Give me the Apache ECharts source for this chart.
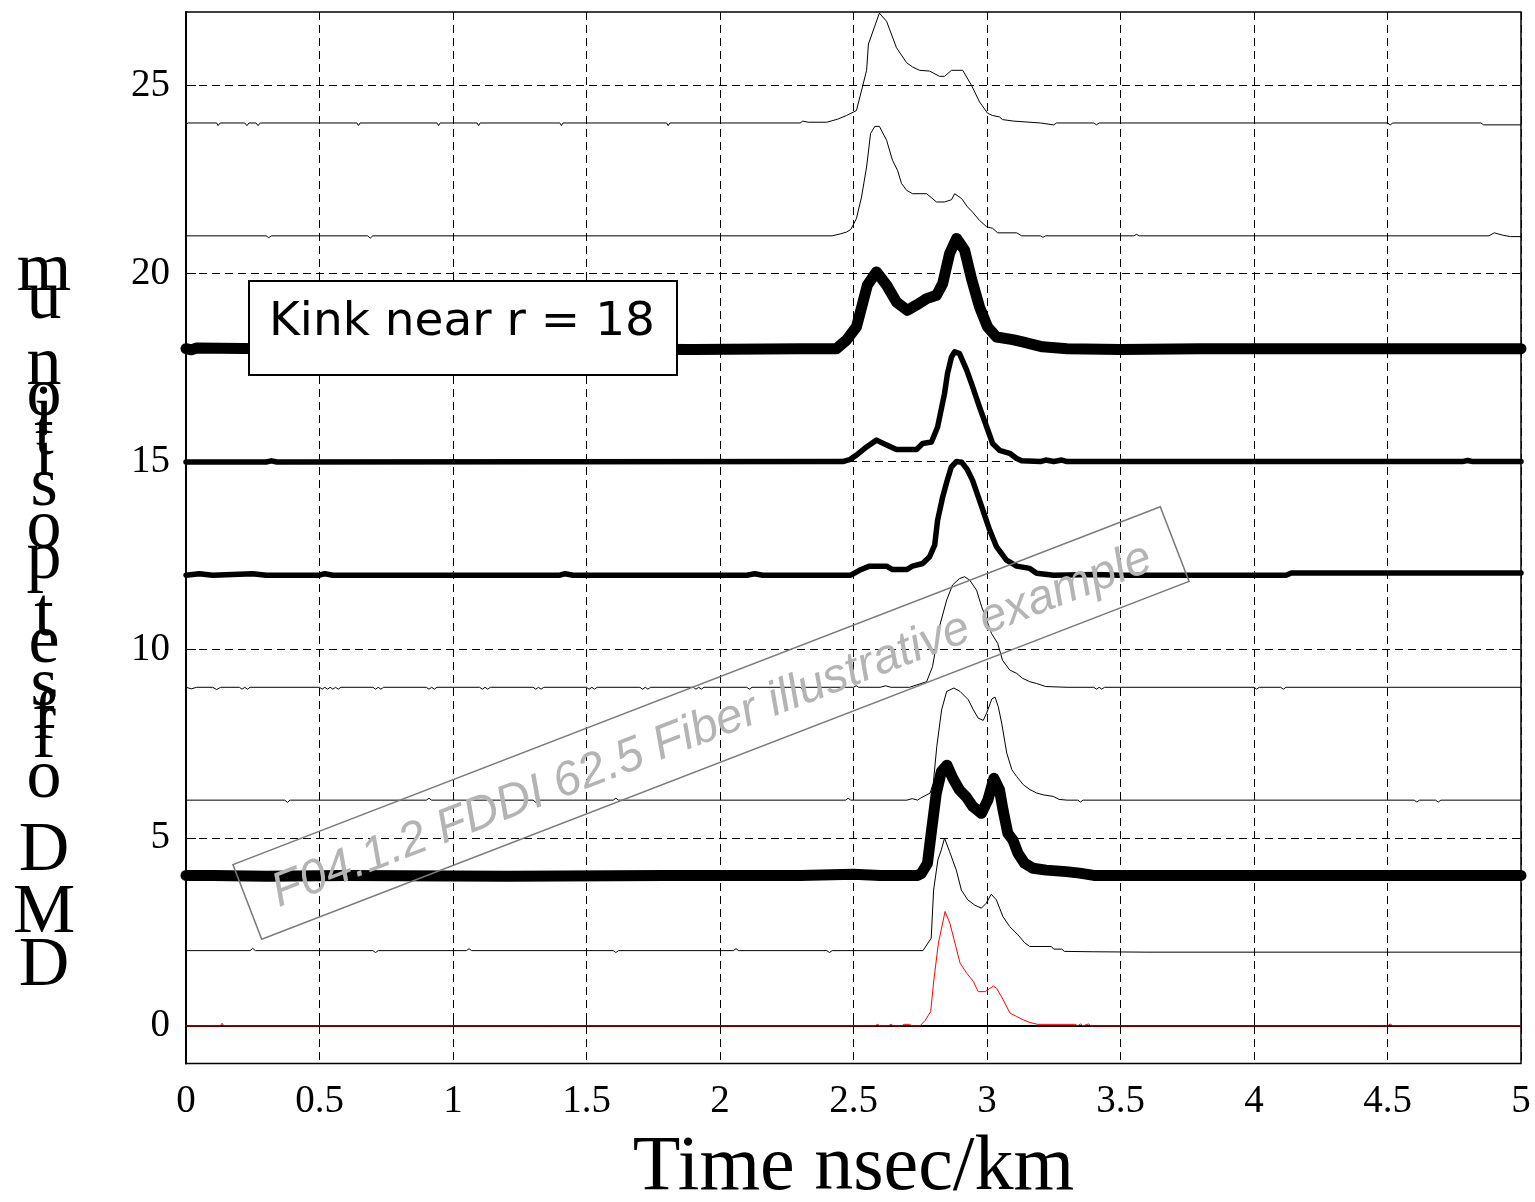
<!DOCTYPE html>
<html><head><meta charset="utf-8">
<script src="https://cdn.jsdelivr.net/npm/echarts@6/dist/echarts.min.js"></script>
<style>html,body{margin:0;padding:0;background:#fff}#c{width:1535px;height:1202px}</style>
</head><body><div id="c"></div>
<script>
// ---- data (x in nsec/km, y = DMD offset + normalised pulse) ----
const yTickValues = [0, 5, 10, 15, 20, 25];
const xTickStep = 0.5;

const r0 = [[0,0],[0.128,0],[0.135,0.07],[0.142,0],[2.58,0],[2.59,0.04],[2.6,0],[2.63,0],[2.64,0.04],[2.65,0],[2.68,0],[2.69,0.04],[2.71,0.04],[2.72,0],[2.749,0],[2.768,0.14],[2.789,0.38],[2.801,1.22],[2.818,2.2],[2.843,3.04],[2.861,2.73],[2.88,2.2],[2.899,1.67],[2.924,1.4],[2.949,1.18],[2.967,0.91],[2.993,0.91],[3.024,1.06],[3.036,1.0],[3.061,0.69],[3.086,0.34],[3.111,0.25],[3.136,0.16],[3.161,0.09],[3.19,0.04],[3.33,0.04],[3.34,0],[3.35,0.05],[3.36,0],[3.38,0.05],[3.39,0],[4.5,0],[4.51,0.05],[4.52,0],[5,0]];

const r2 = [[0,2.0],[0.24,2.0],[0.25,2.06],[0.26,2.0],[0.7,2.0],[0.71,1.95],[0.72,2.0],[1.05,2.0],[1.06,2.05],[1.07,2.0],[1.6,2.0],[1.61,1.95],[1.62,2.0],[2.05,2.0],[2.06,2.05],[2.07,2.0],[2.4,2.0],[2.41,1.95],[2.42,2.0],[2.76,2.0],[2.791,2.33],[2.8,3.61],[2.816,4.41],[2.829,4.68],[2.841,4.99],[2.86,4.63],[2.885,4.14],[2.904,3.61],[2.928,3.35],[2.954,3.21],[2.979,3.13],[2.997,3.26],[3.016,3.5],[3.035,3.35],[3.06,2.9],[3.085,2.64],[3.116,2.42],[3.141,2.21],[3.16,2.11],[3.241,2.11],[3.25,2.04],[3.28,2.04],[3.29,1.98],[3.4,1.97],[3.6,1.96],[5,1.96]];

const r4 = [[0,4.0],[0.1,4.0],[0.3,3.98],[0.6,4.0],[1.2,3.98],[1.8,4.0],[2.3,4.0],[2.5,4.03],[2.6,4.0],[2.74,4.0],[2.754,4.05],[2.777,4.32],[2.791,5.12],[2.81,6.18],[2.829,6.76],[2.85,6.93],[2.872,6.58],[2.897,6.27],[2.922,6.09],[2.947,5.83],[2.979,5.65],[3.003,6.0],[3.026,6.58],[3.047,6.27],[3.06,5.74],[3.078,5.12],[3.097,4.94],[3.116,4.59],[3.141,4.32],[3.172,4.19],[3.222,4.14],[3.297,4.1],[3.347,4.06],[3.4,4.0],[5,4.0]];

const r6 = [[0,6.0],[0.37,6.0],[0.38,5.94],[0.39,6.0],[0.9,6.0],[0.91,6.05],[0.92,6.0],[1.3,6.0],[1.31,5.94],[1.32,6.0],[1.6,6.0],[1.61,6.05],[1.62,6.0],[2.47,6.0],[2.48,6.05],[2.49,6.0],[2.7,6.0],[2.72,6.04],[2.74,6.0],[2.75,6.05],[2.787,6.19],[2.799,6.46],[2.812,7.43],[2.83,8.4],[2.849,8.89],[2.876,8.98],[2.899,8.89],[2.93,8.67],[2.949,8.4],[2.967,8.18],[2.986,8.12],[2.999,8.32],[3.018,8.69],[3.03,8.74],[3.042,8.49],[3.055,8.05],[3.074,7.25],[3.093,6.81],[3.111,6.63],[3.136,6.41],[3.161,6.28],[3.186,6.19],[3.211,6.14],[3.248,6.1],[3.27,6.02],[3.3,6.0],[3.34,6.0],[3.35,5.95],[3.36,6.0],[4.6,6.0],[4.61,5.95],[4.62,6.0],[4.68,6.0],[4.69,5.95],[4.7,6.0],[5,6.0]];

const r9 = [[0,9.0],[0.02,8.96],[0.04,9.0],[0.1,9.0],[0.115,8.94],[0.13,9.0],[0.2,9.0],[0.21,8.95],[0.22,9.0],[0.23,8.95],[0.24,9.0],[0.5,9.0],[0.51,8.95],[0.52,9.0],[0.53,8.95],[0.54,9.0],[0.55,8.95],[0.56,9.0],[0.57,8.95],[0.58,9.0],[0.7,9.0],[0.71,8.95],[0.72,9.0],[0.73,8.95],[0.74,9.0],[0.9,9.0],[0.91,8.95],[0.92,9.0],[0.93,8.95],[0.94,9.0],[1.1,9.0],[1.11,8.95],[1.12,9.0],[1.13,8.95],[1.14,9.0],[1.3,9.0],[1.31,8.95],[1.32,9.0],[1.33,8.95],[1.34,9.0],[1.5,9.0],[1.51,8.95],[1.52,9.0],[1.53,8.95],[1.54,9.0],[1.7,9.0],[1.71,8.95],[1.72,9.0],[1.73,8.95],[1.74,9.0],[1.9,9.0],[1.91,8.95],[1.92,9.0],[1.93,8.95],[1.94,9.0],[2.1,9.0],[2.11,8.95],[2.12,9.0],[2.3,9.0],[2.31,8.95],[2.32,9.0],[2.5,9.0],[2.51,9.04],[2.52,9.0],[2.6,9.0],[2.62,9.04],[2.64,9.0],[2.71,9.0],[2.774,9.15],[2.796,9.55],[2.822,10.61],[2.849,11.32],[2.871,11.72],[2.897,11.89],[2.916,11.94],[2.935,11.85],[2.961,11.58],[2.98,11.14],[2.999,10.79],[3.017,10.43],[3.04,10.17],[3.058,9.72],[3.085,9.46],[3.111,9.37],[3.133,9.24],[3.16,9.15],[3.186,9.1],[3.22,9.02],[3.3,9.0],[3.4,9.0],[3.41,8.95],[3.42,9.0],[3.43,8.95],[3.44,9.0],[4.0,9.0],[4.01,8.95],[4.02,9.0],[4.1,9.0],[4.11,8.95],[4.12,9.0],[5,9.0]];

const r12 = [[0,11.98],[0.05,12.02],[0.1,11.98],[0.25,12.02],[0.3,11.98],[0.5,11.98],[0.52,12.02],[0.55,11.98],[1.4,11.98],[1.42,12.02],[1.45,11.98],[2.1,11.98],[2.13,12.02],[2.16,11.98],[2.49,11.98],[2.522,12.11],[2.56,12.22],[2.624,12.22],[2.646,12.13],[2.699,12.13],[2.721,12.22],[2.759,12.29],[2.785,12.47],[2.804,12.78],[2.815,13.44],[2.834,14.06],[2.849,14.45],[2.866,14.85],[2.885,15.0],[2.905,14.98],[2.925,14.8],[2.946,14.5],[2.98,13.8],[3.01,13.18],[3.036,12.73],[3.073,12.38],[3.111,12.22],[3.16,12.16],[3.186,12.03],[3.25,11.98],[3.4,12.0],[3.5,11.98],[4.12,11.98],[4.14,12.04],[5,12.04]];

const r15 = [[0,14.99],[0.3,14.99],[0.32,15.02],[0.34,14.99],[2.46,15.0],[2.485,15.05],[2.511,15.17],[2.549,15.39],[2.586,15.57],[2.624,15.44],[2.661,15.32],[2.736,15.32],[2.759,15.48],[2.792,15.52],[2.815,15.92],[2.841,16.81],[2.852,17.34],[2.867,17.78],[2.879,17.92],[2.897,17.87],[2.924,17.43],[2.946,16.99],[2.972,16.45],[2.999,15.92],[3.021,15.48],[3.047,15.3],[3.085,15.22],[3.111,15.08],[3.13,15.02],[3.2,15.0],[3.22,15.04],[3.25,15.0],[3.28,15.04],[3.3,15.0],[4.78,15.0],[4.8,15.03],[4.82,15.0],[5,15.0]];

const r18 = [[0,18.0],[0.02,17.97],[0.04,18.02],[0.3,18.0],[1.0,18.0],[1.9,17.98],[2.3,18.0],[2.436,18.0],[2.474,18.23],[2.511,18.58],[2.534,19.2],[2.552,19.69],[2.586,20.04],[2.624,19.69],[2.661,19.24],[2.702,19.02],[2.736,19.16],[2.774,19.33],[2.811,19.42],[2.834,19.73],[2.86,20.53],[2.886,20.93],[2.916,20.62],[2.942,19.86],[2.972,19.11],[3.002,18.58],[3.036,18.31],[3.096,18.24],[3.133,18.18],[3.208,18.05],[3.3,18.0],[3.5,17.98],[3.8,18.0],[5,18.0]];

const r21 = [[0,21.0],[0.3,21.0],[0.31,20.95],[0.32,21.0],[0.68,21.0],[0.69,20.94],[0.7,21.0],[2.42,21.0],[2.45,21.05],[2.474,21.1],[2.49,21.17],[2.511,21.46],[2.53,22.03],[2.549,22.83],[2.564,23.72],[2.58,23.91],[2.597,23.91],[2.624,23.54],[2.646,23.01],[2.665,22.74],[2.68,22.39],[2.699,22.21],[2.721,22.12],[2.774,22.12],[2.811,21.9],[2.841,21.9],[2.867,21.96],[2.879,22.12],[2.905,21.99],[2.927,21.77],[2.946,21.63],[2.972,21.41],[2.999,21.24],[3.021,21.2],[3.04,21.08],[3.111,21.08],[3.13,21.0],[3.2,21.0],[3.21,20.96],[3.22,21.0],[3.55,21.0],[3.56,21.04],[3.57,21.0],[4.88,21.0],[4.9,21.08],[4.93,21.02],[4.96,20.98],[5,20.98]];

const r24 = [[0,23.98],[0.01,24.0],[0.115,24.0],[0.12,23.93],[0.128,24.0],[0.22,24.0],[0.228,23.93],[0.236,24.0],[0.262,24.0],[0.27,23.93],[0.278,24.0],[0.64,24.0],[0.646,23.93],[0.652,24.0],[0.94,24.0],[0.946,23.93],[0.952,24.0],[1.09,24.0],[1.096,23.93],[1.102,24.0],[1.4,24.0],[1.406,23.93],[1.412,24.0],[1.8,24.0],[1.806,23.93],[1.812,24.0],[2.3,24.0],[2.31,24.05],[2.33,24.02],[2.4,24.02],[2.44,24.1],[2.474,24.2],[2.511,24.33],[2.535,25.0],[2.549,25.4],[2.556,26.1],[2.597,26.92],[2.624,26.7],[2.661,26.0],[2.699,25.6],[2.721,25.49],[2.747,25.4],[2.785,25.38],[2.822,25.24],[2.841,25.24],[2.867,25.4],[2.909,25.4],[2.942,25.0],[2.972,24.56],[3.002,24.26],[3.02,24.2],[3.047,24.16],[3.058,24.09],[3.1,24.05],[3.2,24.0],[3.25,23.95],[3.26,24.0],[3.4,24.0],[3.41,23.95],[3.42,24.0],[4.5,24.0],[4.51,23.95],[4.52,24.0],[4.85,24.0],[4.86,23.95],[5,23.95]];

// ---- styling (kept apart from the data) ----
const curves = [
  {data: r0,  w: 1,   c: '#ff0000'},
  {data: r2,  w: 1,   c: '#000'},
  {data: r4,  w: 11,  c: '#000'},
  {data: r6,  w: 1,   c: '#000'},
  {data: r9,  w: 1,   c: '#000'},
  {data: r12, w: 5.5, c: '#000'},
  {data: r15, w: 5.5, c: '#000'},
  {data: r18, w: 11,  c: '#000'},
  {data: r21, w: 1,   c: '#000'},
  {data: r24, w: 1,   c: '#000'}
];

// y-axis title: glyphs stacked upright (top to bottom) with their baselines
const yTitleChars = ['m','u','n','o','i','t','i','s','o','p','t','e','s','f','f','o','D','M','D'];
const yTitleBase  = [295,323,389,420,438,459,480,510,552,583,640,667,710,743,762,802,875,937,990];
const yTitleFont = 70;

const serif = '"Liberation Serif", "Times New Roman", serif';
const dash = [8, 5];

const graphics = [];
yTitleChars.forEach((ch, i) => {
  graphics.push({type: 'text', x: 44, y: yTitleBase[i] - 0.3375 * yTitleFont, z: 100,
    style: {text: ch, font: yTitleFont + 'px ' + serif, fill: '#000',
            textAlign: 'center', textVerticalAlign: 'middle'}});
});
graphics.push({type: 'rect', z: 100, shape: {x: 249, y: 281, width: 428, height: 94},
  style: {fill: '#fff', stroke: '#000', lineWidth: 2}});
graphics.push({type: 'text', x: 462, y: 323, z: 101,
  style: {text: 'Kink near r = 18', font: '47px "DejaVu Sans", sans-serif', fill: '#000',
          textAlign: 'center', textVerticalAlign: 'middle'}});
graphics.push({type: 'group', x: 711, y: 723, rotation: 21.1 * Math.PI / 180, z: 102,
  children: [
    {type: 'rect', shape: {x: -497, y: -40, width: 994, height: 80},
     style: {fill: 'none', stroke: '#7a7a7a', lineWidth: 1.5}, z: 102},
    {type: 'text', x: 0, y: 3, z: 103,
     style: {text: 'F04.1.2 FDDI 62.5 Fiber illustrative example',
             font: 'italic 48px "Liberation Sans", Arial, sans-serif', fill: '#b4b4b4',
             textAlign: 'center', textVerticalAlign: 'middle'}}
  ]});

const chart = echarts.init(document.getElementById('c'), null, {renderer: 'canvas'});
chart.setOption({
  animation: false,
  backgroundColor: '#fff',
  grid: {left: 186, right: 14, top: 12, bottom: 138.5, containLabel: false, outerBoundsMode: 'none',
         show: true, borderColor: '#000', borderWidth: 1.5, backgroundColor: 'transparent'},
  xAxis: {
    type: 'value', min: 0, max: 5, interval: xTickStep,
    name: 'Time nsec/km', nameLocation: 'middle', nameGap: 66,
    nameTextStyle: {fontFamily: serif, fontSize: 78, color: '#000'},
    axisLine: {show: true, lineStyle: {color: '#000', width: 2}},
    axisTick: {show: true, inside: true, length: 10, lineStyle: {color: '#000', width: 1}},
    axisLabel: {fontFamily: serif, fontSize: 39, color: '#000', margin: 19},
    splitLine: {show: true, lineStyle: {color: '#000', width: 1, type: dash}}
  },
  yAxis: {
    type: 'value', min: -1, max: 26.95,
    axisLine: {show: true, lineStyle: {color: '#000', width: 2}},
    axisTick: {show: true, inside: true, length: 10, customValues: yTickValues, lineStyle: {color: '#000', width: 1}},
    axisLabel: {fontFamily: serif, fontSize: 39, color: '#000', margin: 16, customValues: yTickValues},
    splitLine: {show: true, lineStyle: {color: '#000', width: 1, type: dash}}
  },
  series: curves.map(cv => ({
    type: 'line', data: cv.data, showSymbol: false, symbol: 'none', smooth: false,
    lineStyle: {color: cv.c, width: cv.w, cap: 'round', join: 'round'},
    emphasis: {disabled: true}, silent: true
  })),
  graphic: graphics
});
</script></body></html>
